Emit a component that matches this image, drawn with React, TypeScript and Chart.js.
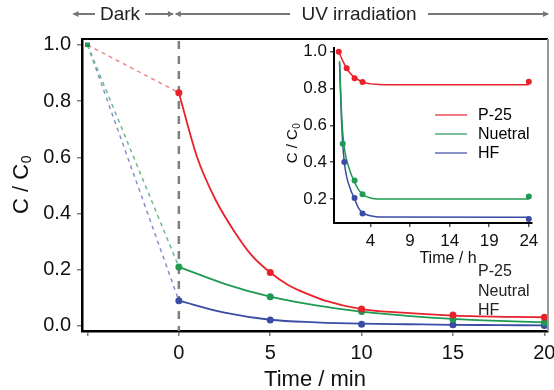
import React, { useEffect, useRef } from 'react';
import { Chart, registerables } from 'chart.js';

Chart.register(...registerables);

const FONT = '"Liberation Sans", Arial, Helvetica, sans-serif';

// ---------- main chart data ----------
const darkTimes = [-5, 0];
const p25Dark = [1.0, 0.83];
const neutralDark = [1.0, 0.21];
const hfDark = [1.0, 0.09];

const uvTimes = [0, 5, 10, 15, 20];
const p25Uv = [0.83, 0.19, 0.06, 0.039, 0.031];
const neutralUv = [0.21, 0.104, 0.051, 0.024, 0.012];
const hfUv = [0.09, 0.021, 0.006, 0.004, 0.002];

// fitted curves
const p25FitTimes = [0, 1, 2, 3, 4, 5, 6, 7, 8, 10, 12, 15, 20];
const p25Fit = [0.83, 0.6, 0.45, 0.34, 0.25, 0.19, 0.145, 0.115, 0.09, 0.06, 0.048, 0.037, 0.031];
const neutralFitTimes = [0, 2.5, 5, 7.5, 10, 12.5, 15, 17.5, 20];
const neutralFit = [0.21, 0.15, 0.104, 0.073, 0.051, 0.036, 0.025, 0.018, 0.013];
const hfFitTimes = [0, 2.5, 5, 7.5, 10, 12.5, 15, 17.5, 20];
const hfFit = [0.09, 0.047, 0.022, 0.013, 0.008, 0.006, 0.004, 0.003, 0.002];

const mainXTicks = [-5, 0, 5, 10, 15, 20];
const mainYTicks = [0, 0.2, 0.4, 0.6, 0.8, 1.0];
const boundaryTime = 0;

// ---------- inset data ----------
const insetP25Times = [0, 1, 2, 3, 24];
const insetP25 = [1.0, 0.91, 0.855, 0.835, 0.836];
const insetNeutralTimes = [0.5, 2, 3, 24];
const insetNeutral = [0.5, 0.3, 0.225, 0.213];
const insetHfTimes = [0.7, 2, 3, 24];
const insetHf = [0.4, 0.205, 0.12, 0.091];

const insetP25FitTimes = [0, 0.5, 1, 1.5, 2, 3, 4, 5, 7, 24];
const insetP25Fit = [1.0, 0.95, 0.91, 0.88, 0.86, 0.835, 0.825, 0.822, 0.82, 0.82];
const insetNeutralFitTimes = [0.1, 0.3, 0.5, 0.8, 1.2, 1.6, 2, 2.5, 3, 4, 5, 7, 24];
const insetNeutralFit = [0.95, 0.72, 0.56, 0.45, 0.38, 0.33, 0.29, 0.25, 0.225, 0.205, 0.2, 0.2, 0.2];
const insetHfFitTimes = [0.1, 0.3, 0.5, 0.7, 1, 1.5, 2, 2.5, 3, 4, 5, 24];
const insetHfFit = [0.94, 0.68, 0.5, 0.4, 0.32, 0.25, 0.2, 0.15, 0.125, 0.108, 0.102, 0.1];

const insetXTicks = [4, 9, 14, 19, 24];
const insetYTicks = [0.2, 0.4, 0.6, 0.8, 1.0];

const seriesNames = ['P-25', 'Nuetral', 'HF'];
const strayLabels = ['P-25', 'Neutral', 'HF'];

const RED = '#e8222a';
const GREEN = '#1f9a52';
const BLUE = '#3a4ca3';
const RED_L = '#ec8a86';
const GREEN_L = '#6fb88b';
const BLUE_L = '#8591c8';
const GRAY = '#808080';

const pts = (xs: number[], ys: number[]) => xs.map((x, i) => ({ x, y: ys[i] }));

function fitLine(xs: number[], ys: number[], color: string, width = 1.8) {
  return {
    type: 'line' as const,
    data: pts(xs, ys),
    borderColor: color,
    borderWidth: width,
    pointRadius: 0,
    cubicInterpolationMode: 'monotone' as const,
    fill: false,
  };
}
function dotSet(xs: number[], ys: number[], color: string, r = 3.5) {
  return {
    type: 'scatter' as const,
    data: pts(xs, ys),
    backgroundColor: color,
    borderColor: color,
    borderWidth: 0,
    pointRadius: r,
    showLine: false,
  };
}
function darkLine(ys: number[], color: string, ptColor: string) {
  return {
    type: 'line' as const,
    data: pts(darkTimes, ys),
    borderColor: color,
    borderWidth: 1.5,
    borderDash: [4, 4],
    pointRadius: [3, 0],
    pointStyle: 'rect' as const,
    backgroundColor: ptColor,
    pointBackgroundColor: ptColor,
    pointBorderWidth: 0,
    fill: false,
  };
}

function drawArrow(ctx: CanvasRenderingContext2D, x1: number, x2: number, y: number, left: boolean, right: boolean) {
  ctx.beginPath();
  ctx.moveTo(x1, y);
  ctx.lineTo(x2, y);
  ctx.stroke();
  if (left) {
    ctx.beginPath();
    ctx.moveTo(x1 - 1, y);
    ctx.lineTo(x1 + 5, y - 3);
    ctx.lineTo(x1 + 5, y + 3);
    ctx.closePath();
    ctx.fill();
  }
  if (right) {
    ctx.beginPath();
    ctx.moveTo(x2 + 1, y);
    ctx.lineTo(x2 - 5, y - 3);
    ctx.lineTo(x2 - 5, y + 3);
    ctx.closePath();
    ctx.fill();
  }
}

function drawSubTitle(ctx: CanvasRenderingContext2D, cx: number, cy: number, size: number, subSize: number, rotate: boolean) {
  ctx.save();
  ctx.translate(cx, cy);
  if (rotate) ctx.rotate(-Math.PI / 2);
  ctx.fillStyle = '#111';
  ctx.textBaseline = 'middle';
  ctx.textAlign = 'left';
  const main = 'C / C';
  const sub = '0';
  ctx.font = `${size}px ${FONT}`;
  const wm = ctx.measureText(main).width;
  ctx.font = `${subSize}px ${FONT}`;
  const ws = ctx.measureText(sub).width;
  const start = -(wm + ws) / 2;
  ctx.font = `${size}px ${FONT}`;
  ctx.fillText(main, start, 0);
  ctx.font = `${subSize}px ${FONT}`;
  ctx.fillText(sub, start + wm + 0.5, size * 0.25);
  ctx.restore();
}

const mainDecor = {
  id: 'mainDecor',
  beforeDatasetsDraw(chart: any) {
    const { ctx, chartArea, scales } = chart;
    const x0 = scales.x.getPixelForValue(boundaryTime);
    ctx.save();
    ctx.strokeStyle = GRAY;
    ctx.lineWidth = 2.5;
    ctx.setLineDash([8, 7]);
    ctx.beginPath();
    ctx.moveTo(x0, chartArea.top + 2);
    ctx.lineTo(x0, chartArea.bottom);
    ctx.stroke();
    ctx.restore();
  },
  afterDraw(chart: any) {
    const { ctx, chartArea, scales } = chart;
    ctx.save();
    // top border
    ctx.strokeStyle = '#000';
    ctx.lineWidth = 2;
    ctx.beginPath();
    ctx.moveTo(chartArea.left - 1, chartArea.top);
    ctx.lineTo(chartArea.right, chartArea.top);
    ctx.stroke();
    // right border
    ctx.strokeStyle = '#999';
    ctx.lineWidth = 2;
    ctx.beginPath();
    ctx.moveTo(chartArea.right, chartArea.top);
    ctx.lineTo(chartArea.right, chartArea.bottom);
    ctx.stroke();

    // axis titles
    ctx.fillStyle = '#111';
    ctx.font = `22px ${FONT}`;
    ctx.textAlign = 'center';
    ctx.textBaseline = 'middle';
    ctx.fillText('Time / min', (chartArea.left + chartArea.right) / 2, 380);
    drawSubTitle(ctx, 22, (chartArea.top + chartArea.bottom) / 2, 22, 14, true);

    // top annotations
    const x0 = scales.x.getPixelForValue(boundaryTime);
    const xl = scales.x.getPixelForValue(mainXTicks[0]);
    ctx.font = `19px ${FONT}`;
    ctx.fillStyle = '#222';
    ctx.textBaseline = 'middle';
    ctx.textAlign = 'center';
    const ty = 15;
    ctx.fillText('Dark', 120, ty);
    ctx.fillText('UV irradiation', 359, ty);
    ctx.strokeStyle = '#777';
    ctx.fillStyle = '#777';
    ctx.lineWidth = 2;
    drawArrow(ctx, xl - 14, 95, 14, true, false);
    drawArrow(ctx, 145, x0 - 6, 14, false, true);
    drawArrow(ctx, x0 - 3, 290, 14, true, false);
    drawArrow(ctx, 428, chartArea.right, 14, false, true);

    // stray labels
    ctx.font = `16px ${FONT}`;
    ctx.fillStyle = '#222';
    ctx.textAlign = 'left';
    ctx.textBaseline = 'middle';
    strayLabels.forEach((s, i) => ctx.fillText(s, 478, 272 + i * 19.5));
    ctx.restore();
  },
};

const insetDecor = {
  id: 'insetDecor',
  afterDraw(chart: any) {
    const { ctx, chartArea } = chart;
    ctx.save();
    const colors = [RED, GREEN, BLUE];
    ctx.font = `16px ${FONT}`;
    ctx.textAlign = 'left';
    ctx.textBaseline = 'middle';
    seriesNames.forEach((s, i) => {
      const y = 75 + i * 19;
      ctx.strokeStyle = colors[i];
      ctx.lineWidth = 1.2;
      ctx.beginPath();
      ctx.moveTo(155, y);
      ctx.lineTo(187, y);
      ctx.stroke();
      ctx.fillStyle = '#000';
      ctx.fillText(s, 198, y + 1);
    });
    ctx.fillStyle = '#111';
    ctx.font = `16px ${FONT}`;
    ctx.textAlign = 'center';
    ctx.fillText('Time / h', 168, 219);
    drawSubTitle(ctx, 13, (chartArea.top + chartArea.bottom) / 2 + 8, 15, 10, true);
    ctx.restore();
  },
};

export default function App() {
  const mainRef = useRef<HTMLCanvasElement>(null);
  const insetRef = useRef<HTMLCanvasElement>(null);

  useEffect(() => {
    document.body.style.margin = '0';
    Chart.defaults.font.family = FONT;

    // Chart.js paints dataset 0 on top, so points come first, dark-phase lines last
    const main = new Chart(mainRef.current as HTMLCanvasElement, {
      type: 'line',
      data: {
        datasets: [
          dotSet(uvTimes, p25Uv, RED),
          dotSet(uvTimes, neutralUv, GREEN),
          dotSet(uvTimes, hfUv, BLUE),
          fitLine(p25FitTimes, p25Fit, RED),
          fitLine(neutralFitTimes, neutralFit, GREEN),
          fitLine(hfFitTimes, hfFit, BLUE),
          darkLine(neutralDark, GREEN_L, GREEN),
          darkLine(hfDark, BLUE_L, BLUE),
          darkLine(p25Dark, RED_L, RED),
        ] as any,
      },
      options: {
        animation: false,
        responsive: false,
        layout: { padding: { top: 39, right: 6, left: 0, bottom: 0 } },
        plugins: { legend: { display: false }, tooltip: { enabled: false } },
        scales: {
          x: {
            type: 'linear',
            min: -5.3,
            max: 20.2,
            afterBuildTicks: (s: any) => { s.ticks = mainXTicks.map((v) => ({ value: v })); },
            afterFit: (s: any) => { s.height = 59; s.paddingLeft = 0; s.paddingRight = 0; },
            ticks: {
              callback: (v: any) => (v === mainXTicks[0] ? '' : String(v)),
              font: { size: 20, family: FONT },
              color: '#111',
              padding: 5,
              maxRotation: 0,
            },
            grid: { drawOnChartArea: false, drawTicks: true, tickLength: 5, color: GRAY, lineWidth: 1.5 },
            border: { display: true, color: '#000', width: 2.5 },
          },
          y: {
            type: 'linear',
            min: -0.018,
            max: 1.021,
            afterBuildTicks: (s: any) => { s.ticks = mainYTicks.map((v) => ({ value: v })); },
            afterFit: (s: any) => { s.width = 82; s.paddingTop = 0; s.paddingBottom = 0; },
            ticks: {
              callback: (v: any) => Number(v).toFixed(1),
              font: { size: 20, family: FONT },
              color: '#111',
              padding: 6,
            },
            grid: { drawOnChartArea: false, drawTicks: true, tickLength: 5, color: GRAY, lineWidth: 1.5 },
            border: { display: true, color: '#000', width: 2.5 },
          },
        },
      },
      plugins: [mainDecor],
    });

    const inset = new Chart(insetRef.current as HTMLCanvasElement, {
      type: 'line',
      data: {
        datasets: [
          dotSet(insetP25Times, insetP25, RED, 3),
          dotSet(insetNeutralTimes, insetNeutral, GREEN, 3),
          dotSet(insetHfTimes, insetHf, BLUE, 3),
          fitLine(insetP25FitTimes, insetP25Fit, RED, 1.5),
          fitLine(insetNeutralFitTimes, insetNeutralFit, GREEN, 1.5),
          fitLine(insetHfFitTimes, insetHfFit, BLUE, 1.5),
        ] as any,
      },
      options: {
        animation: false,
        responsive: false,
        layout: { padding: { top: 8, right: 16, left: 0, bottom: 0 } },
        plugins: { legend: { display: false }, tooltip: { enabled: false } },
        scales: {
          x: {
            type: 'linear',
            min: -0.6,
            max: 24.4,
            afterBuildTicks: (s: any) => { s.ticks = insetXTicks.map((v) => ({ value: v })); },
            afterFit: (s: any) => { s.height = 52; s.paddingLeft = 0; s.paddingRight = 0; },
            ticks: { font: { size: 17, family: FONT }, color: '#111', padding: 4, maxRotation: 0 },
            grid: { drawOnChartArea: false, drawTicks: true, tickLength: 4, color: '#555', lineWidth: 1.5 },
            border: { display: true, color: '#000', width: 2 },
          },
          y: {
            type: 'linear',
            min: 0.069,
            max: 1.02,
            afterBuildTicks: (s: any) => { s.ticks = insetYTicks.map((v) => ({ value: v })); },
            afterFit: (s: any) => { s.width = 54; s.paddingTop = 0; s.paddingBottom = 0; },
            ticks: {
              callback: (v: any) => Number(v).toFixed(1),
              font: { size: 17, family: FONT },
              color: '#111',
              padding: 3,
            },
            grid: { drawOnChartArea: false, drawTicks: true, tickLength: 4, color: '#555', lineWidth: 1.5 },
            border: { display: true, color: '#000', width: 2 },
          },
        },
      },
      plugins: [insetDecor],
    });

    return () => {
      main.destroy();
      inset.destroy();
    };
  }, []);

  return (
    <div style={{ position: 'fixed', left: 0, top: 0, width: 554, height: 390, background: '#fff' }}>
      <canvas ref={mainRef} width={554} height={390} style={{ position: 'absolute', left: 0, top: 0 }} />
      <canvas ref={insetRef} width={268} height={235} style={{ position: 'absolute', left: 280, top: 40 }} />
    </div>
  );
}
